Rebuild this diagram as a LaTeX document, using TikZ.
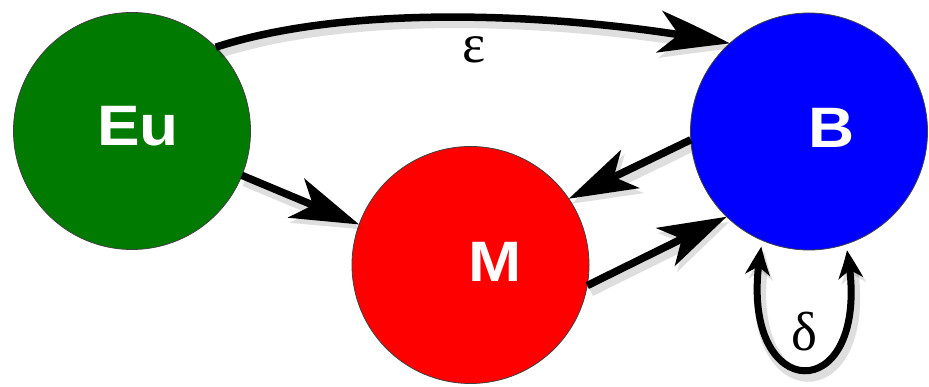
\documentclass[tikz,border=0pt]{standalone}
\usepackage{fontspec}
\setmainfont{Liberation Sans}
\newfontfamily\greekfont{Liberation Serif}
\usetikzlibrary{arrows.meta,bending}
\definecolor{eugreen}{RGB}{0,122,0}
\definecolor{mred}{RGB}{255,0,0}
\definecolor{bblue}{RGB}{0,0,255}
\begin{document}
\begin{tikzpicture}[x=1pt,y=1pt,
  state/.style={circle, minimum size=237pt, inner sep=0pt, outer sep=0pt, draw=black!75, line width=0.8pt},
  statelabel/.style={text=white, font=\fontsize{57}{60}\selectfont\bfseries, inner sep=0pt, xscale=1.12, transform shape},
  greeklabel/.style={font=\greekfont\fontsize{55}{60}\selectfont, inner sep=0pt},
  bighead/.style={-{Stealth[length=68pt,width=42pt,inset=18pt,bend]}},
  smallhead/.style={{Stealth[length=30pt,width=24pt,inset=9pt,bend]}-{Stealth[length=30pt,width=24pt,inset=9pt,bend]}},
  shade/.style={preaction={draw=black, opacity=0.13, line width=12pt, transform canvas={shift={(3pt,-5pt)}}}},
  flow/.style={line width=7.5pt, bighead, shade},
  loopflow/.style={line width=7pt, smallhead, shade, shorten <=6pt, shorten >=6pt}
]
\useasboundingbox (0,0) rectangle (929,387);
\fill[white] (0,0) rectangle (929,387);

\node[state, fill=eugreen] (Eu) at (132,256) {};
\node[state, fill=mred] (M) at (470.5,122) {};
\node[state, fill=bblue] (B) at (809,255.5) {};

\node[statelabel] (EuText) at (138,261) {Eu};
\node[statelabel] (MText) at (495.5,125) {M};
\node[statelabel] (BText) at (832,259.5) {B};

\draw[flow] (Eu.45) .. controls +(18:150) and +(169:150) .. (B.132);
\draw[flow] (Eu.-22) -- (M.160);
\draw[flow] (B.184) -- (M.34);
\draw[flow] (M.-10) -- (B.226);
\draw[loopflow] (B.247) .. controls +(258:175) and +(282:175) .. (B.288);

\node[greeklabel] (eps) at (474,337) {ε};
\node[greeklabel] (del) at (804.5,55) {δ};
\end{tikzpicture}
\end{document}
